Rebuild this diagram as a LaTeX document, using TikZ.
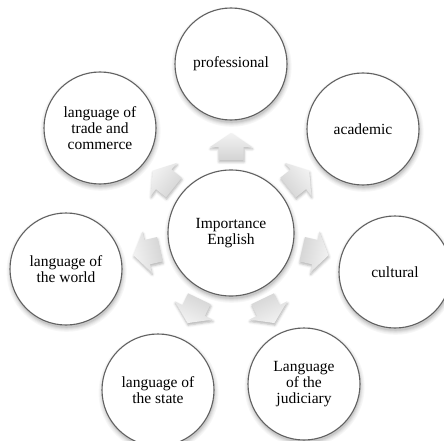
\documentclass[tikz,border=0pt]{standalone}
\usepackage{fontspec}
\setmainfont{Liberation Serif}
\usetikzlibrary{shadows.blur,calc}

\tikzset{
  bubble/.style={circle, draw=black!62, line width=1.1pt, fill=white,
    minimum size=112pt, inner sep=0pt, align=center,
    font=\fontsize{15.5}{16}\selectfont},
  hub/.style={bubble, minimum size=126pt},
  blockarrow/.style={top color=black!5, bottom color=black!17,
    blur shadow={shadow xshift=0.5pt, shadow yshift=-2pt,
      shadow blur radius=2.5pt, shadow opacity=30}}
}

\begin{document}
\begin{tikzpicture}[x=1pt, y=1pt]
  \useasboundingbox (0,0) rectangle (444,440);
  \clip (0,0) rectangle (444,440);

  % positions of the centre and the seven topics
  \coordinate (p0) at (231,207);
  \coordinate (p1) at (231,376);
  \coordinate (p2) at (363,311);
  \coordinate (p3) at (395,168);
  \coordinate (p4) at (304,56);
  \coordinate (p5) at (158,50);
  \coordinate (p6) at (66,171);
  \coordinate (p7) at (100,312);

  % soft drop shadows under the circles, built from graded grey discs
  \foreach \q/\rad in {p0/63, p1/56, p2/56, p3/56, p4/56, p5/56, p6/56, p7/56} {
    \foreach \dr/\g in {4/3, 3/6, 2/10, 1/15, 0/21} {
      \fill[black!\g] ($(\q)+(0.6,-2.8)$) circle ({\rad+\dr});
    }
  }

  % centre and surrounding topics
  \node[hub]    (c)  at (p0) {Importance\\English};
  \node[bubble] (n1) at (p1) {professional};
  \node[bubble] (n2) at (p2) {academic};
  \node[bubble] (n3) at (p3) {cultural};
  \node[bubble] (n4) at (p4) {Language\\of the\\judiciary};
  \node[bubble] (n5) at (p5) {language of\\the state};
  \node[bubble] (n6) at (p6) {language of\\the world};
  \node[bubble] (n7) at (p7) {language of\\trade and\\commerce};

  % block arrows pointing outwards from the centre
  \foreach \i/\a in {1/90, 2/38.57, 3/-12.86, 4/-64.29, 5/-115.71, 6/-167.14, 7/141.43} {
    \pgfmathsetmacro\sa{\a-90}
    \coordinate (m\i) at ($(c)+(\a:86)$);
    \begin{scope}[shift={(m\i)}, rotate=\a]
      \path[blockarrow, shading angle=\sa]
        (-13,-12.5) -- (0,-12.5) -- (0,-21) -- (14,0) -- (0,21)
        -- (0,12.5) -- (-13,12.5) -- cycle;
    \end{scope}
  }
\end{tikzpicture}
\end{document}
